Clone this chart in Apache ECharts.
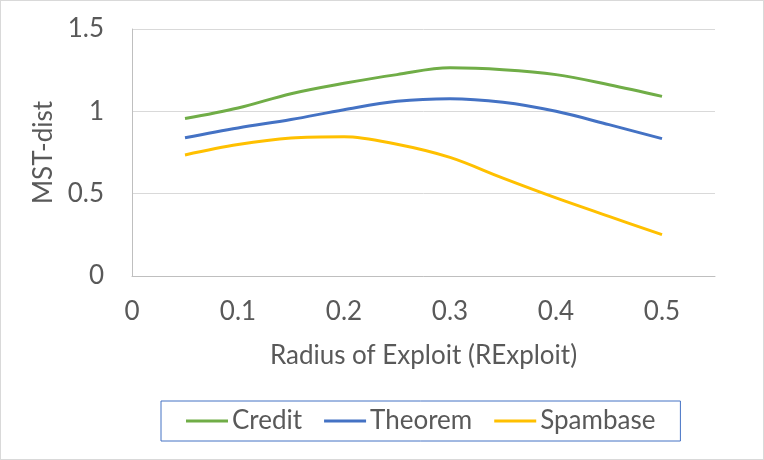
<!DOCTYPE html>
<html>
<head>
<meta charset="utf-8">
<script src="https://cdn.jsdelivr.net/npm/echarts@6/dist/echarts.min.js"></script>
<style>
    html, body { margin: 0; padding: 0; background: #fff; }
    #chart { width: 764px; height: 460px; box-sizing: border-box; border: 1px solid #d9d9d9; }
</style>
</head>
<body>
<div id="chart"></div>
<script>
// radius values on the x axis
const radius = [0.05, 0.1, 0.15, 0.2, 0.25, 0.3, 0.35, 0.4, 0.45, 0.5];
// MST-dist per dataset
const credit = [0.956, 1.02, 1.107, 1.17, 1.223, 1.264, 1.253, 1.223, 1.162, 1.091];
const theorem = [0.84, 0.899, 0.95, 1.01, 1.061, 1.077, 1.055, 1.0, 0.919, 0.834];
const spambase = [0.735, 0.798, 0.838, 0.846, 0.8, 0.72, 0.594, 0.474, 0.362, 0.251];
const seriesNames = ['Credit', 'Theorem', 'Spambase'];

const font = 'Lato, "Open Sans", sans-serif';
const grey = '#595959';

function pairs(ys) {
    return radius.map((x, i) => [x, ys[i]]);
}

const chart = echarts.init(document.getElementById('chart'));
chart.setOption({
    animation: false,
    color: ['#70AD47', '#4472C4', '#FFC000'],
    grid: { left: 131, top: 28, right: 48, bottom: 183 },
    legend: {
        data: seriesNames,
        bottom: 18,
        left: 160,
        borderColor: '#4472C4',
        borderWidth: 1,
        padding: [7, 25, 7, 25],
        itemWidth: 42,
        itemHeight: 3,
        itemGap: 22,
        icon: 'rect',
        textStyle: { fontFamily: font, fontSize: 26, color: grey, padding: [0, 0, 0, -1] }
    },
    xAxis: {
        type: 'value',
        min: 0,
        max: 0.55,
        interval: 0.1,
        name: 'Radius of Exploit (RExploit)',
        nameLocation: 'middle',
        nameGap: 67,
        nameTextStyle: { fontFamily: font, fontSize: 26, color: grey },
        axisLine: { lineStyle: { color: '#BFBFBF', width: 1 } },
        axisTick: { show: false },
        splitLine: { show: false },
        axisLabel: { fontFamily: font, fontSize: 26, color: grey, margin: 23, showMaxLabel: false }
    },
    yAxis: {
        type: 'value',
        min: 0,
        max: 1.5,
        interval: 0.5,
        name: 'MST-dist',
        nameLocation: 'middle',
        nameGap: 73,
        nameTextStyle: { fontFamily: font, fontSize: 26, color: grey },
        axisLine: { show: true, lineStyle: { color: '#BFBFBF', width: 1 } },
        axisTick: { show: false },
        splitLine: { lineStyle: { color: '#D9D9D9', width: 1 } },
        axisLabel: { fontFamily: font, fontSize: 26, color: grey, margin: 28 }
    },
    series: [credit, theorem, spambase].map((ys, i) => ({
        name: seriesNames[i],
        type: 'line',
        data: pairs(ys),
        smooth: 0.35,
        showSymbol: false,
        lineStyle: { width: 3 }
    }))
});
</script>
</body>
</html>
